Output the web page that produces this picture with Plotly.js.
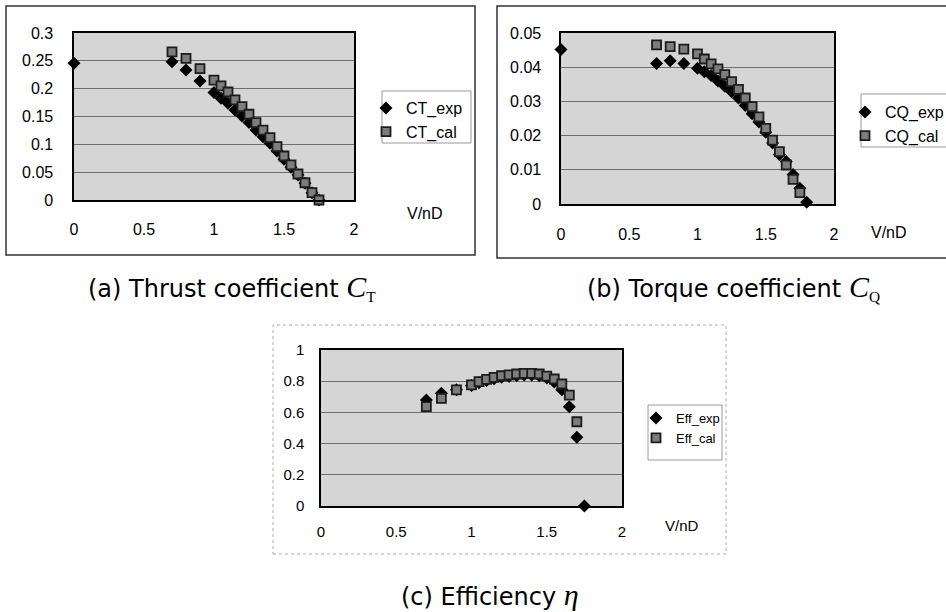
<!DOCTYPE html>
<html>
<head>
<meta charset="utf-8">
<script src="https://cdn.plot.ly/plotly-3.0.1.min.js"></script>
<style>html,body{margin:0;padding:0;background:#fff;}#chart{width:946px;height:612px;}</style>
</head>
<body>
<div id="chart"></div>
<script>
// ---- Data ----
// (a) Thrust coefficient
const ctExpX = [0, 0.7, 0.8, 0.9, 1.0, 1.05, 1.1, 1.15, 1.2, 1.25, 1.3, 1.35, 1.4, 1.45, 1.5, 1.55, 1.6, 1.65, 1.7, 1.75];
const ctExpY = [0.2455, 0.2485, 0.2335, 0.2138, 0.193, 0.1826, 0.1736, 0.1617, 0.151, 0.139, 0.1257, 0.1138, 0.1018, 0.088, 0.073, 0.059, 0.045, 0.03, 0.013, 0.0];
const ctCalX = [0.7, 0.8, 0.9, 1.0, 1.05, 1.1, 1.15, 1.2, 1.25, 1.3, 1.35, 1.4, 1.45, 1.5, 1.55, 1.6, 1.65, 1.7, 1.75];
const ctCalY = [0.266, 0.2545, 0.236, 0.2155, 0.205, 0.194, 0.18, 0.1677, 0.154, 0.139, 0.1257, 0.112, 0.0958, 0.079, 0.063, 0.0467, 0.031, 0.0131, 0.0];
// (b) Torque coefficient
const cqExpX = [0, 0.7, 0.8, 0.9, 1.0, 1.05, 1.1, 1.15, 1.2, 1.25, 1.3, 1.35, 1.4, 1.45, 1.5, 1.55, 1.6, 1.65, 1.7, 1.75, 1.8];
const cqExpY = [0.0452, 0.0411, 0.0419, 0.0411, 0.0397, 0.0387, 0.0376, 0.036, 0.0344, 0.0328, 0.031, 0.0288, 0.0264, 0.024, 0.021, 0.0178, 0.0145, 0.0124, 0.0086, 0.0046, 0.0005];
const cqCalX = [0.7, 0.8, 0.9, 1.0, 1.05, 1.1, 1.15, 1.2, 1.25, 1.3, 1.35, 1.4, 1.45, 1.5, 1.55, 1.6, 1.65, 1.7, 1.75];
const cqCalY = [0.0465, 0.046, 0.0453, 0.0439, 0.0424, 0.041, 0.0395, 0.0378, 0.0358, 0.0335, 0.031, 0.0285, 0.0255, 0.0221, 0.0187, 0.0153, 0.0114, 0.0072, 0.0033];
// (c) Efficiency
const effExpX = [0.7, 0.8, 0.9, 1.0, 1.05, 1.1, 1.15, 1.2, 1.25, 1.3, 1.35, 1.4, 1.45, 1.5, 1.55, 1.6, 1.65, 1.7, 1.75];
const effExpY = [0.68, 0.722, 0.745, 0.773, 0.79, 0.805, 0.815, 0.825, 0.83, 0.835, 0.84, 0.84, 0.835, 0.82, 0.795, 0.745, 0.637, 0.44, 0.0];
const effCalX = [0.7, 0.8, 0.9, 1.0, 1.05, 1.1, 1.15, 1.2, 1.25, 1.3, 1.35, 1.4, 1.45, 1.5, 1.55, 1.6, 1.65, 1.7];
const effCalY = [0.637, 0.69, 0.744, 0.776, 0.797, 0.812, 0.825, 0.835, 0.84, 0.846, 0.85, 0.85, 0.846, 0.833, 0.814, 0.782, 0.711, 0.54];

const seriesNames = ["CT_exp", "CT_cal", "CQ_exp", "CQ_cal", "Eff_exp", "Eff_cal"];
const xTitle = "V/nD";
const captions = ["(a) Thrust coefficient ", "(b) Torque coefficient ", "(c) Efficiency "];

// ---- Layout helpers ----
const W = 946, H = 612;
const px = v => v / W;
const py = v => 1 - v / H;
const FONT = "Liberation Sans, Arial, sans-serif";
const CAPFONT = "DejaVu Sans, Verdana, sans-serif";
const SERIF = "Liberation Serif, Times New Roman, serif";

const expMarker = {symbol: "diamond", size: 10, color: "#000", line: {width: 0}};
const calMarker = {symbol: "square", size: 9, color: "#7d7d7d", line: {width: 1.8, color: "#1c1c1c"}};

function tr(x, y, name, marker, xa, ya, lg) {
  return {x: x, y: y, name: name, type: "scatter", mode: "markers", marker: marker,
          xaxis: xa, yaxis: ya, legend: lg, cliponaxis: false, hoverinfo: "x+y"};
}

const data = [
  tr(ctExpX, ctExpY, seriesNames[0], expMarker, "x", "y", "legend"),
  tr(ctCalX, ctCalY, seriesNames[1], calMarker, "x", "y", "legend"),
  tr(cqExpX, cqExpY, seriesNames[2], expMarker, "x2", "y2", "legend2"),
  tr(cqCalX, cqCalY, seriesNames[3], calMarker, "x2", "y2", "legend2"),
  tr(effExpX, effExpY, seriesNames[4], expMarker, "x3", "y3", "legend3"),
  tr(effCalX, effCalY, seriesNames[5], calMarker, "x3", "y3", "legend3")
];

function xax(dom, anchor, fs, standoff) {
  return {domain: dom, anchor: anchor, range: [0, 2], dtick: 0.5, tick0: 0,
          showgrid: false, zeroline: false, showline: true, mirror: true,
          linecolor: "#000", linewidth: 1.6, ticks: "", ticklabelstandoff: standoff,
          tickfont: {family: FONT, size: fs, color: "#000"}, fixedrange: true};
}
function yax(dom, anchor, range, dtick, fs, standoff) {
  return {domain: dom, anchor: anchor, range: range, dtick: dtick, tick0: 0,
          showgrid: true, gridcolor: "#6e6e6e", gridwidth: 1, zeroline: false,
          showline: true, mirror: true, linecolor: "#000", linewidth: 1.6,
          ticks: "", ticklabelstandoff: standoff,
          tickfont: {family: FONT, size: fs, color: "#000"}, fixedrange: true};
}

function legendBox(x, y, fs) {
  return {x: x, y: y, xanchor: "left", yanchor: "top", bgcolor: "rgba(0,0,0,0)",
          borderwidth: 0, font: {family: FONT, size: fs, color: "#000"},
          itemwidth: 30, tracegroupgap: 0, traceorder: "normal"};
}

function cap(text, sym, sub, x, y) {
  let s = text + '<span style="font-family:' + SERIF + ';font-style:italic;font-size:30px">' + sym + '</span>';
  if (sub) s += '<span style="font-family:' + SERIF + ';font-size:22px"><sub>' + sub + '</sub></span>';
  return {text: s, xref: "paper", yref: "paper", x: px(x), y: py(y), xanchor: "center", yanchor: "middle",
          showarrow: false, font: {family: CAPFONT, size: 24, color: "#000"}};
}
function vnd(x, y, fs) {
  return {text: xTitle, xref: "paper", yref: "paper", x: px(x), y: py(y), xanchor: "center", yanchor: "middle",
          showarrow: false, font: {family: FONT, size: fs, color: "#000"}};
}
function box(x0, x1, y0, y1, color, width, dash) {
  return {type: "rect", xref: "paper", yref: "paper", x0: px(x0), x1: px(x1), y0: py(y1), y1: py(y0),
          line: {color: color, width: width, dash: dash || "solid"}, fillcolor: "rgba(0,0,0,0)", layer: "below"};
}

const layout = {
  width: W, height: H,
  margin: {l: 0, r: 0, t: 0, b: 0, autoexpand: false},
  paper_bgcolor: "#fff", plot_bgcolor: "#d5d5d5",
  xaxis: xax([px(74), px(354)], "y", 16, 14),
  yaxis: yax([py(200), py(33)], "x", [0, 0.3], 0.05, 16, 16),
  xaxis2: xax([px(561), px(834)], "y2", 16, 15),
  yaxis2: yax([py(204), py(33)], "x2", [0, 0.05], 0.01, 16, 15),
  xaxis3: xax([px(321), px(622)], "y3", 15, 11),
  yaxis3: yax([py(506), py(350)], "x3", [0, 1], 0.2, 15, 12),
  legend: legendBox(px(366), py(91), 16),
  legend2: legendBox(px(845), py(95), 16),
  legend3: legendBox(px(636), py(403), 13),
  shapes: [
    box(6, 475, 6, 255, "#333", 1.5),
    box(497, 960, 6, 258, "#333", 1.5),
    box(273, 726, 325, 554, "#aaa", 1, "dot"),
    box(382, 471, 91, 143, "#9a9a9a", 1),
    box(861, 960, 94, 147, "#9a9a9a", 1),
    box(648, 722, 405, 460, "#9a9a9a", 1)
  ],
  annotations: [
    vnd(425, 213, 16), vnd(889, 232, 16), vnd(682, 525, 15),
    cap(captions[0], "C", "T", 232, 287),
    cap(captions[1], "C", "Q", 733, 287),
    cap(captions[2], "η", null, 490, 594)
  ],
  showlegend: true
};

Plotly.newPlot("chart", data, layout, {displayModeBar: false, staticPlot: true});
</script>
</body>
</html>
